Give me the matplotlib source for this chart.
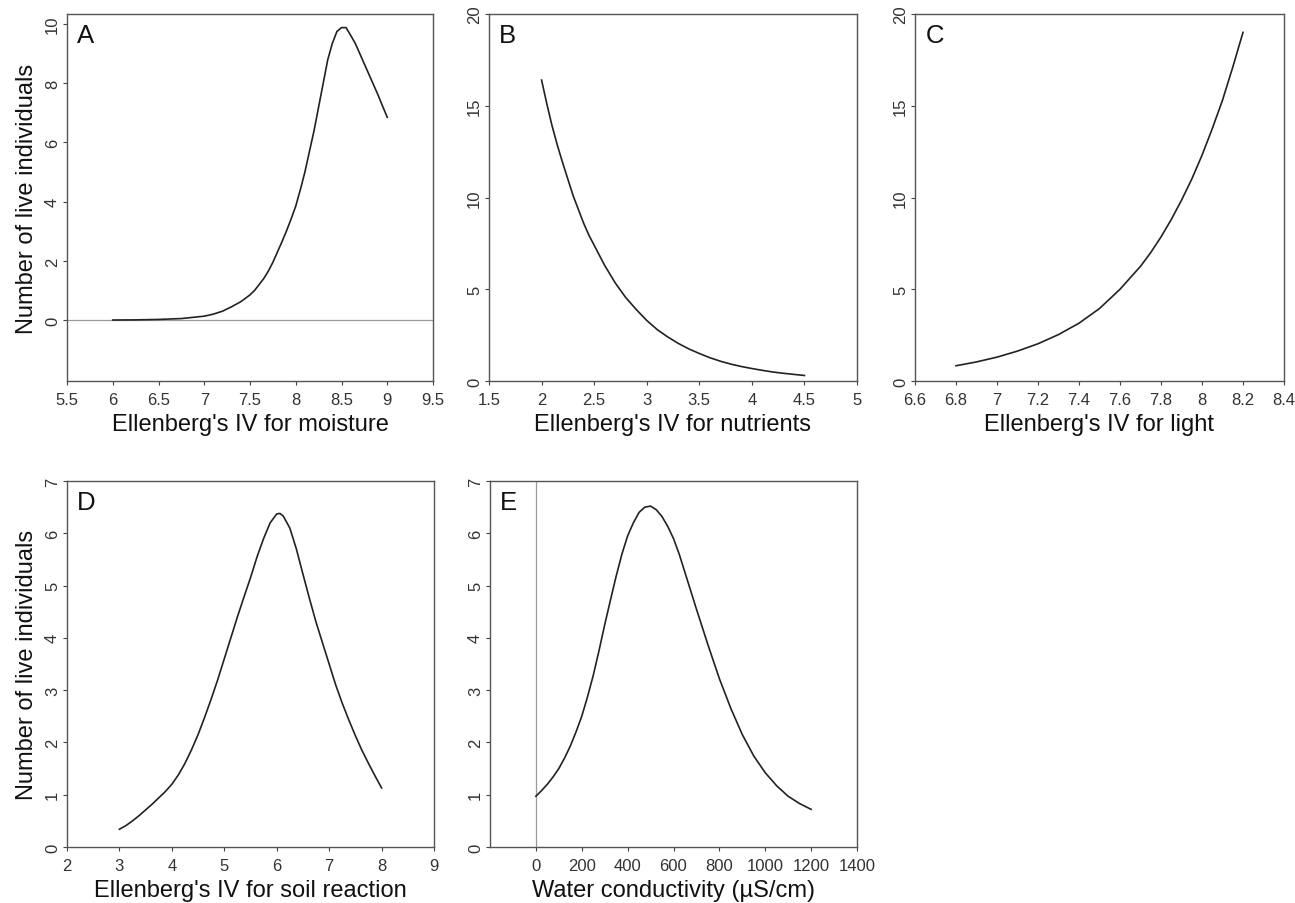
import matplotlib
matplotlib.use("Agg")
import matplotlib.pyplot as plt

plt.rcParams["font.family"] = ["Liberation Sans", "DejaVu Sans"]

# A: moisture
moist_x = [6.0, 6.25, 6.5, 6.75, 7.0, 7.1, 7.2, 7.3, 7.4, 7.5, 7.55, 7.6, 7.65, 7.7, 7.75,
           7.8, 7.85, 7.9, 7.95, 8.0, 8.05, 8.1, 8.15, 8.2, 8.25, 8.3, 8.35, 8.4, 8.45,
           8.5, 8.55, 8.6, 8.65, 8.7, 8.75, 8.8, 8.85, 8.9, 8.95, 9.0]
moist_y = [0.0, 0.005, 0.02, 0.05, 0.13, 0.2, 0.3, 0.45, 0.62, 0.85, 1.0, 1.2, 1.4, 1.65, 1.95,
           2.3, 2.65, 3.02, 3.42, 3.85, 4.4, 5.0, 5.7, 6.4, 7.2, 8.0, 8.8, 9.35, 9.75,
           9.88, 9.88, 9.62, 9.35, 9.0, 8.65, 8.3, 7.95, 7.6, 7.22, 6.85]

# B: nutrients
nutr_x = [2.0, 2.05, 2.1, 2.15, 2.2, 2.25, 2.3, 2.35, 2.4, 2.45, 2.5, 2.6, 2.7, 2.8, 2.9,
          3.0, 3.1, 3.2, 3.3, 3.4, 3.5, 3.6, 3.7, 3.8, 3.9, 4.0, 4.1, 4.2, 4.3, 4.4, 4.5]
nutr_y = [16.4, 15.1, 13.9, 12.85, 11.9, 11.0, 10.1, 9.35, 8.6, 7.95, 7.4, 6.3, 5.35, 4.55, 3.9,
          3.3, 2.8, 2.4, 2.05, 1.75, 1.5, 1.27, 1.08, 0.92, 0.79, 0.68, 0.58, 0.49, 0.42,
          0.36, 0.3]

# C: light
light_x = [6.8, 6.9, 7.0, 7.1, 7.2, 7.3, 7.4, 7.5, 7.6, 7.7, 7.75, 7.8, 7.85, 7.9, 7.95,
           8.0, 8.05, 8.1, 8.15, 8.2]
light_y = [0.83, 1.04, 1.3, 1.63, 2.03, 2.53, 3.15, 3.95, 5.0, 6.25, 7.0, 7.85, 8.8, 9.85,
           11.0, 12.3, 13.75, 15.3, 17.1, 19.0]

# D: soil reaction
soil_x = [3.0, 3.125, 3.25, 3.375, 3.5, 3.625, 3.75, 3.875, 4.0, 4.125, 4.25, 4.375, 4.5,
          4.625, 4.75, 4.875, 5.0, 5.125, 5.25, 5.375, 5.5, 5.625, 5.75, 5.875, 6.0, 6.06,
          6.125, 6.25, 6.375, 6.5, 6.625, 6.75, 6.875, 7.0, 7.125, 7.25, 7.375, 7.5, 7.625,
          7.75, 7.875, 8.0]
soil_y = [0.34, 0.41, 0.5, 0.6, 0.71, 0.82, 0.94, 1.06, 1.2, 1.38, 1.6, 1.86, 2.15,
          2.48, 2.83, 3.2, 3.6, 4.0, 4.4, 4.78, 5.15, 5.55, 5.9, 6.2, 6.37, 6.38,
          6.33, 6.1, 5.7, 5.22, 4.75, 4.3, 3.9, 3.5, 3.1, 2.75, 2.43, 2.13, 1.85,
          1.6, 1.36, 1.13]

# E: water conductivity
cond_x = [0, 25, 50, 75, 100, 125, 150, 175, 200, 225, 250, 275, 300, 325, 350, 375, 400,
          425, 450, 475, 500, 525, 550, 575, 600, 625, 650, 675, 700, 750, 800, 850, 900,
          950, 1000, 1050, 1100, 1150, 1200]
cond_y = [0.97, 1.08, 1.2, 1.34, 1.5, 1.7, 1.93, 2.2, 2.5, 2.87, 3.28, 3.75, 4.25, 4.72,
          5.18, 5.6, 5.95, 6.2, 6.4, 6.5, 6.52, 6.45, 6.32, 6.13, 5.9, 5.6, 5.25, 4.9, 4.55,
          3.87, 3.22, 2.65, 2.15, 1.74, 1.42, 1.17, 0.97, 0.83, 0.72]

W, H = 1295, 904
fig = plt.figure(figsize=(W / 100, H / 100), dpi=100)


def make_ax(left, top, right, bottom):
    return fig.add_axes([left / W, 1 - bottom / H, (right - left) / W, (bottom - top) / H])


panels = [
    dict(box=(67, 15, 433, 382), x=moist_x, y=moist_y, letter="A",
         xlim=(5.5, 9.5), xticks=[5.5, 6, 6.5, 7, 7.5, 8, 8.5, 9, 9.5],
         xlabels=["5.5", "6", "6.5", "7", "7.5", "8", "8.5", "9", "9.5"],
         ylim=(-2.06, 10.34), yticks=[0, 2, 4, 6, 8, 10],
         xlabel="Ellenberg's IV for moisture", ylabel=True),
    dict(box=(489, 15, 857, 382), x=nutr_x, y=nutr_y, letter="B",
         xlim=(1.5, 5), xticks=[1.5, 2, 2.5, 3, 3.5, 4, 4.5, 5],
         xlabels=["1.5", "2", "2.5", "3", "3.5", "4", "4.5", "5"],
         ylim=(0, 20), yticks=[0, 5, 10, 15, 20],
         xlabel="Ellenberg's IV for nutrients", ylabel=False),
    dict(box=(915, 15, 1284, 382), x=light_x, y=light_y, letter="C",
         xlim=(6.6, 8.4), xticks=[6.6, 6.8, 7, 7.2, 7.4, 7.6, 7.8, 8, 8.2, 8.4],
         xlabels=["6.6", "6.8", "7", "7.2", "7.4", "7.6", "7.8", "8", "8.2", "8.4"],
         ylim=(0, 20), yticks=[0, 5, 10, 15, 20],
         xlabel="Ellenberg's IV for light", ylabel=False),
    dict(box=(67, 482, 434, 848), x=soil_x, y=soil_y, letter="D",
         xlim=(2, 9), xticks=[2, 3, 4, 5, 6, 7, 8, 9],
         xlabels=["2", "3", "4", "5", "6", "7", "8", "9"],
         ylim=(0, 7), yticks=[0, 1, 2, 3, 4, 5, 6, 7],
         xlabel="Ellenberg's IV for soil reaction", ylabel=True),
    dict(box=(490, 482, 857, 848), x=cond_x, y=cond_y, letter="E",
         xlim=(-200, 1400), xticks=[0, 200, 400, 600, 800, 1000, 1200, 1400],
         xlabels=["0", "200", "400", "600", "800", "1000", "1200", "1400"],
         ylim=(0, 7), yticks=[0, 1, 2, 3, 4, 5, 6, 7],
         xlabel="Water conductivity (µS/cm)", ylabel=False),
]

for p in panels:
    ax = make_ax(*p["box"])
    if p["letter"] == "A":
        ax.axhline(0, color="#9a9a9a", lw=0.9, zorder=1)
    if p["letter"] == "E":
        ax.axvline(0, color="#9a9a9a", lw=0.9, zorder=1)
    ax.plot(p["x"], p["y"], color="#222222", lw=1.2, zorder=2)
    ax.set_xlim(*p["xlim"])
    ax.set_ylim(*p["ylim"])
    ax.set_xticks(p["xticks"])
    ax.set_xticklabels(p["xlabels"])
    ax.set_yticks(p["yticks"])
    ax.set_yticklabels([str(v) for v in p["yticks"]], rotation=90, va="center")
    ax.tick_params(direction="out", length=3, width=0.8, colors="#444444",
                   labelsize=12, labelcolor="#333333")
    ax.tick_params(axis="x", pad=5)
    ax.tick_params(axis="y", pad=2)
    for s in ax.spines.values():
        s.set_color("#555555")
        s.set_linewidth(1.0)
    ax.set_xlabel(p["xlabel"], fontsize=17, color="#111111", labelpad=4)
    if p["ylabel"]:
        ax.set_ylabel("Number of live individuals", fontsize=17, color="#111111", labelpad=5)
    ax.text(0.028, 0.975, p["letter"], transform=ax.transAxes, fontsize=18.5,
            va="top", ha="left", color="#111111")

fig.savefig("out.png", dpi=100)
